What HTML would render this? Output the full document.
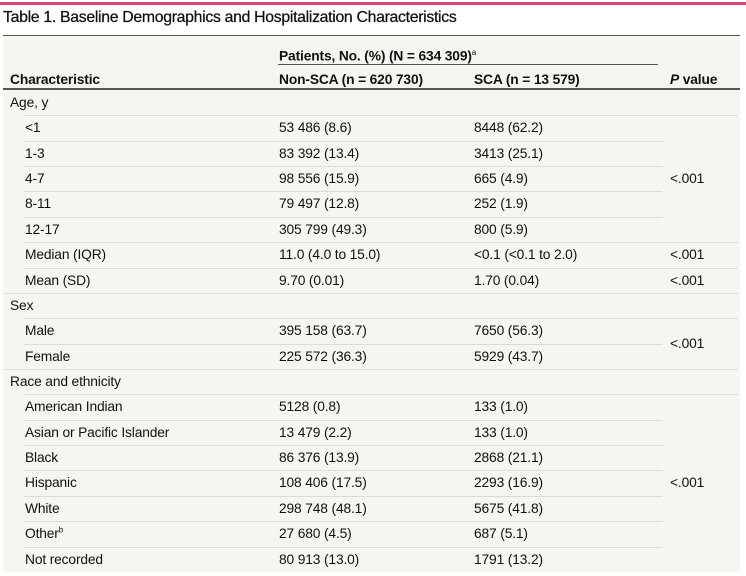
<!DOCTYPE html>
<html><head><meta charset="utf-8"><style>
body{margin:0;width:746px;height:576px;background:#fff;position:relative;overflow:hidden;font-family:"Liberation Sans",sans-serif;color:#111}
.a{position:absolute;white-space:nowrap}
.t{font-size:13.8px;line-height:25px;letter-spacing:-0.15px}
.l{position:absolute;height:1px;background:#dcdad2}
</style></head><body>
<div class="a" style="left:0;top:2px;width:746px;height:3px;background:#d9457a"></div>
<div class="a" style="left:3px;top:9px;font-size:15.8px;letter-spacing:-0.3px;font-weight:500;-webkit-text-stroke:0.25px #111">Table 1. Baseline Demographics and Hospitalization Characteristics</div>
<div class="a" style="left:3px;top:35px;width:737px;height:537px;background:#f6f5ef"></div>
<div class="a" style="left:3px;top:35px;width:737px;height:1px;background:#555"></div>
<div class="a t" style="left:279px;top:40px;font-weight:bold">Patients, No. (%) (N = 634 309)<sup style="font-size:8px;font-weight:normal">a</sup></div>
<div class="a" style="left:278px;top:64px;width:380px;height:1px;background:#555"></div>
<div class="a t" style="left:10px;top:67px;font-weight:bold">Characteristic</div>
<div class="a t" style="left:279px;top:67px;font-weight:bold">Non-SCA (n = 620 730)</div>
<div class="a t" style="left:474px;top:67px;font-weight:bold">SCA (n = 13 579)</div>
<div class="a t" style="left:670px;top:67px;font-weight:bold"><i>P</i> value</div>
<div class="a" style="left:3px;top:88px;width:737px;height:2px;background:#555"></div>
<div class="a t" style="left:10px;top:90px">Age, y</div>
<div class="l" style="left:24px;top:115px;width:714px"></div>

<div class="a t" style="left:25px;top:115px">&lt;1</div><div class="a t" style="left:279px;top:115px">53 486 (8.6)</div><div class="a t" style="left:474px;top:115px">8448 (62.2)</div>
<div class="l" style="left:24px;top:141px;width:639px"></div>
<div class="a t" style="left:25px;top:141px">1-3</div><div class="a t" style="left:279px;top:141px">83 392 (13.4)</div><div class="a t" style="left:474px;top:141px">3413 (25.1)</div>
<div class="l" style="left:24px;top:166px;width:639px"></div>
<div class="a t" style="left:25px;top:166px">4-7</div><div class="a t" style="left:279px;top:166px">98 556 (15.9)</div><div class="a t" style="left:474px;top:166px">665 (4.9)</div>
<div class="a t" style="left:670px;top:166px">&lt;.001</div>
<div class="l" style="left:24px;top:191px;width:639px"></div>
<div class="a t" style="left:25px;top:191px">8-11</div><div class="a t" style="left:279px;top:191px">79 497 (12.8)</div><div class="a t" style="left:474px;top:191px">252 (1.9)</div>
<div class="l" style="left:24px;top:217px;width:639px"></div>
<div class="a t" style="left:25px;top:217px">12-17</div><div class="a t" style="left:279px;top:217px">305 799 (49.3)</div><div class="a t" style="left:474px;top:217px">800 (5.9)</div>
<div class="l" style="left:24px;top:242px;width:714px"></div>
<div class="a t" style="left:25px;top:242px">Median (IQR)</div><div class="a t" style="left:279px;top:242px">11.0 (4.0 to 15.0)</div><div class="a t" style="left:474px;top:242px">&lt;0.1 (&lt;0.1 to 2.0)</div><div class="a t" style="left:670px;top:242px">&lt;.001</div>
<div class="l" style="left:24px;top:268px;width:714px"></div>
<div class="a t" style="left:25px;top:268px">Mean (SD)</div><div class="a t" style="left:279px;top:268px">9.70 (0.01)</div><div class="a t" style="left:474px;top:268px">1.70 (0.04)</div><div class="a t" style="left:670px;top:268px">&lt;.001</div>
<div class="l" style="left:3px;top:293px;width:735px"></div>
<div class="a t" style="left:10px;top:293px">Sex</div>
<div class="l" style="left:24px;top:318px;width:714px"></div>
<div class="a t" style="left:25px;top:318px">Male</div><div class="a t" style="left:279px;top:318px">395 158 (63.7)</div><div class="a t" style="left:474px;top:318px">7650 (56.3)</div>
<div class="a t" style="left:670px;top:331px">&lt;.001</div>
<div class="l" style="left:24px;top:344px;width:639px"></div>
<div class="a t" style="left:25px;top:344px">Female</div><div class="a t" style="left:279px;top:344px">225 572 (36.3)</div><div class="a t" style="left:474px;top:344px">5929 (43.7)</div>
<div class="l" style="left:3px;top:369px;width:735px"></div>
<div class="a t" style="left:10px;top:369px">Race and ethnicity</div>
<div class="l" style="left:24px;top:394px;width:714px"></div>
<div class="a t" style="left:25px;top:394px">American Indian</div><div class="a t" style="left:279px;top:394px">5128 (0.8)</div><div class="a t" style="left:474px;top:394px">133 (1.0)</div>
<div class="l" style="left:24px;top:420px;width:639px"></div>
<div class="a t" style="left:25px;top:420px">Asian or Pacific Islander</div><div class="a t" style="left:279px;top:420px">13 479 (2.2)</div><div class="a t" style="left:474px;top:420px">133 (1.0)</div>
<div class="l" style="left:24px;top:445px;width:639px"></div>
<div class="a t" style="left:25px;top:445px">Black</div><div class="a t" style="left:279px;top:445px">86 376 (13.9)</div><div class="a t" style="left:474px;top:445px">2868 (21.1)</div>
<div class="l" style="left:24px;top:470px;width:639px"></div>
<div class="a t" style="left:25px;top:470px">Hispanic</div><div class="a t" style="left:279px;top:470px">108 406 (17.5)</div><div class="a t" style="left:474px;top:470px">2293 (16.9)</div>
<div class="a t" style="left:670px;top:470px">&lt;.001</div>
<div class="l" style="left:24px;top:496px;width:639px"></div>
<div class="a t" style="left:25px;top:496px">White</div><div class="a t" style="left:279px;top:496px">298 748 (48.1)</div><div class="a t" style="left:474px;top:496px">5675 (41.8)</div>
<div class="l" style="left:24px;top:521px;width:639px"></div>
<div class="a t" style="left:25px;top:521px">Other<sup style="font-size:8px;line-height:0">b</sup></div><div class="a t" style="left:279px;top:521px">27 680 (4.5)</div><div class="a t" style="left:474px;top:521px">687 (5.1)</div>
<div class="l" style="left:24px;top:547px;width:639px"></div>
<div class="a t" style="left:25px;top:547px">Not recorded</div><div class="a t" style="left:279px;top:547px">80 913 (13.0)</div><div class="a t" style="left:474px;top:547px">1791 (13.2)</div>
</body></html>
